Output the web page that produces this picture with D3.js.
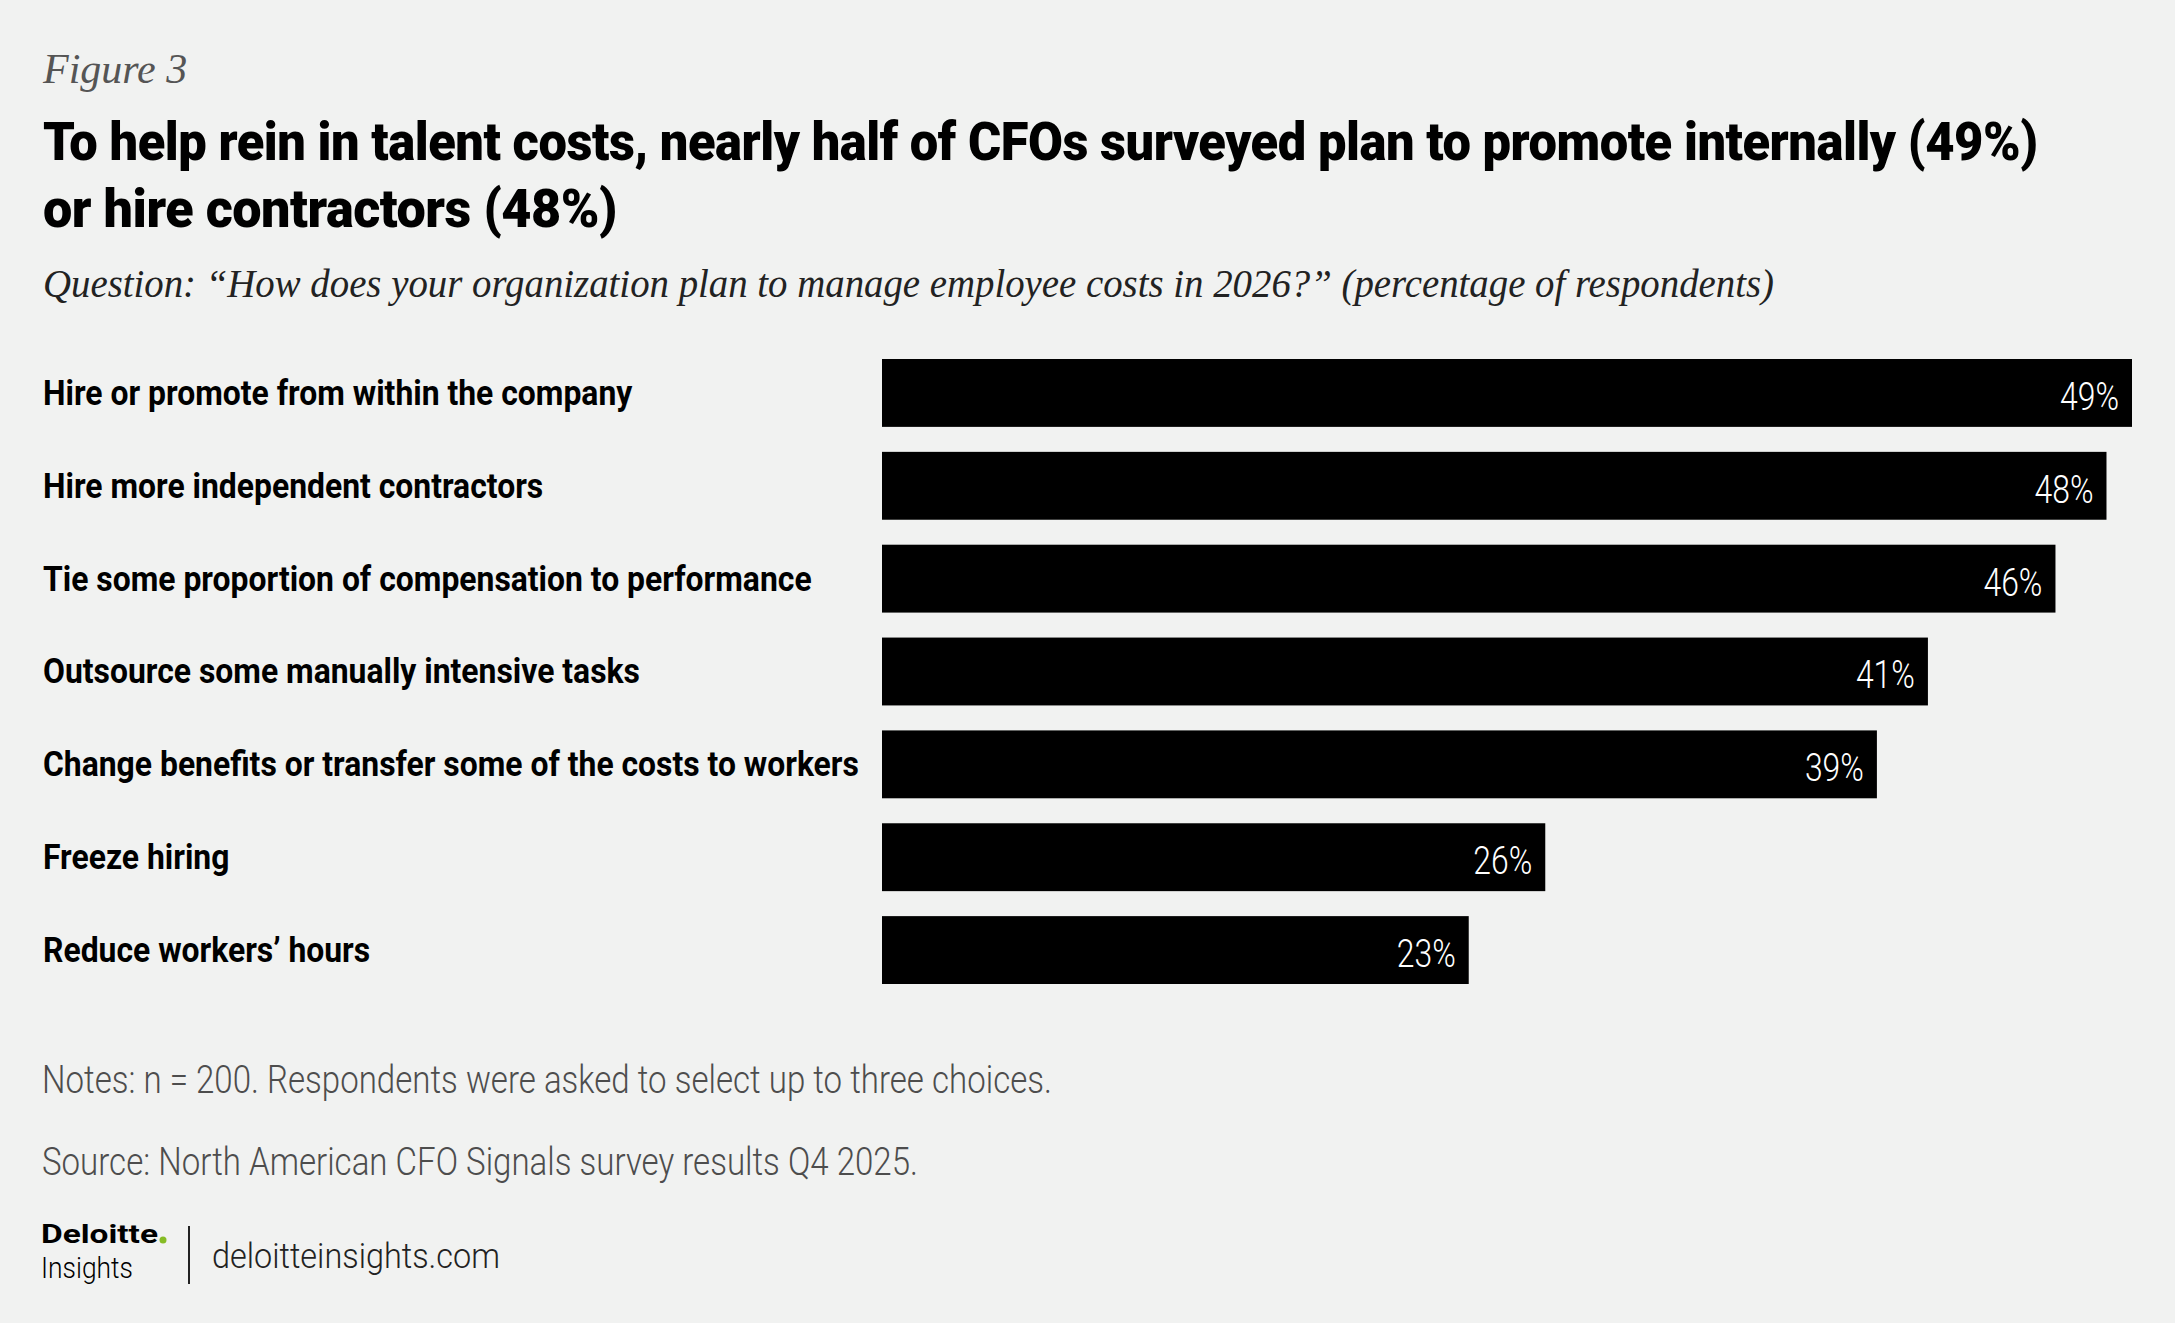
<!DOCTYPE html>
<html>
<head>
<meta charset="utf-8">
<script src="https://cdn.jsdelivr.net/npm/d3@7"></script>
<style>
  body { margin: 0; background: #f1f2f1; }
  svg { display: block; }
</style>
</head>
<body>
<svg id="chart" width="2175" height="1323"></svg>
<script>
// chart data
var categories = [
  "Hire or promote from within the company",
  "Hire more independent contractors",
  "Tie some proportion of compensation to performance",
  "Outsource some manually intensive tasks",
  "Change benefits or transfer some of the costs to workers",
  "Freeze hiring",
  "Reduce workers\u2019 hours"
];
var values = [49, 48, 46, 41, 39, 26, 23];

var figureLabel = "Figure 3";
var titleLines = [
  "To help rein in talent costs, nearly half of CFOs surveyed plan to promote internally (49%)",
  "or hire contractors (48%)"
];
var question = "Question: \u201CHow does your organization plan to manage employee costs in 2026?\u201D (percentage of respondents)";
var notes = [
  "Notes: n = 200. Respondents were asked to select up to three choices.",
  "Source: North American CFO Signals survey results Q4 2025."
];

var SANS = "Roboto, 'Noto Sans', sans-serif";
var SERIF = "'Liberation Serif', 'DejaVu Serif', serif";

var svg = d3.select("#chart");
svg.append("rect").attr("width", 2175).attr("height", 1323).attr("fill", "#f1f2f1");

// horizontal squeeze of a text node around its own x
function squeeze(node, k) {
  var x = +node.getAttribute("x");
  node.setAttribute("transform", "translate(" + x + ",0) scale(" + k + ",1) translate(" + (-x) + ",0)");
}
// squeeze a whole selection by the factor that makes the sample node span w
function fitStyle(sel, sample, w) {
  var k = w / sample.getComputedTextLength();
  sel.each(function() { squeeze(this, k); });
}

// header
svg.append("text")
  .attr("x", 43).attr("y", 83)
  .attr("font-family", SERIF).attr("font-style", "italic")
  .attr("font-size", 42).attr("fill", "#555")
  .text(figureLabel);

var titleWidths = [1995, 574];
var titles = svg.selectAll("text.title").data(titleLines).enter().append("text")
  .attr("class", "title")
  .attr("x", 43).attr("y", function(d, i) { return 160 + i * 67; })
  .attr("font-family", SANS).attr("font-weight", 900)
  .attr("font-size", 54).attr("fill", "#000")
  .attr("letter-spacing", -0.5)
  .text(function(d) { return d; })
  .each(function(d, i) { fitStyle(d3.select(this), this, titleWidths[i]); });

var q = svg.append("text")
  .attr("x", 43).attr("y", 297)
  .attr("font-family", SERIF).attr("font-style", "italic")
  .attr("font-size", 41).attr("fill", "#222")
  .text(question);
fitStyle(q, q.node(), 1732);

// bars
var x = d3.scaleLinear()
  .domain([0, d3.max(values)])
  .range([882, 2132]);

var y = d3.scaleBand()
  .domain(categories)
  .range([359, 984])
  .paddingInner(0.269)
  .paddingOuter(0);

var rows = svg.append("g").selectAll("g")
  .data(categories.map(function(c, i) { return { cat: c, val: values[i] }; }))
  .enter().append("g");

rows.append("rect")
  .attr("x", x(0))
  .attr("y", function(d) { return y(d.cat); })
  .attr("width", function(d) { return x(d.val) - x(0); })
  .attr("height", y.bandwidth())
  .attr("fill", "#000");

var catLabels = rows.append("text")
  .attr("x", 43)
  .attr("y", function(d) { return y(d.cat) + y.bandwidth() / 2 + 12; })
  .attr("font-family", SANS).attr("font-weight", 700)
  .attr("font-size", 35).attr("fill", "#000")
  .text(function(d) { return d.cat; });
fitStyle(catLabels, catLabels.nodes()[4], 816);

var valLabels = rows.append("text")
  .attr("x", function(d) { return x(d.val) - 13; })
  .attr("y", function(d) { return y(d.cat) + y.bandwidth() / 2 + 17; })
  .attr("text-anchor", "end")
  .attr("font-family", SANS).attr("font-weight", 300)
  .attr("font-size", 38).attr("fill", "#fff")
  .text(function(d) { return d.val + "%"; });
fitStyle(valLabels, valLabels.nodes()[0], 59);

// notes
var noteText = svg.selectAll("text.note").data(notes).enter().append("text")
  .attr("class", "note")
  .attr("x", 42).attr("y", function(d, i) { return 1093 + i * 82; })
  .attr("font-family", SANS).attr("font-weight", 300)
  .attr("font-size", 38).attr("fill", "#4d4d4d")
  .text(function(d) { return d; });
fitStyle(noteText, noteText.nodes()[0], 1010);

// logo
var logo = svg.append("g");
var dl = logo.append("text")
  .attr("x", 41).attr("y", 1243)
  .attr("font-family", SANS).attr("font-weight", 700)
  .attr("font-size", 25).attr("fill", "#000")
  .text("Deloitte");
fitStyle(dl, dl.node(), 117);
logo.append("circle")
  .attr("cx", 163).attr("cy", 1240)
  .attr("r", 3.5).attr("fill", "#86bc25");
var ins = logo.append("text")
  .attr("x", 41).attr("y", 1278)
  .attr("font-family", SANS).attr("font-weight", 300)
  .attr("font-size", 29).attr("fill", "#000")
  .text("Insights");
fitStyle(ins, ins.node(), 92);
logo.append("line")
  .attr("x1", 189).attr("x2", 189)
  .attr("y1", 1226).attr("y2", 1284)
  .attr("stroke", "#222").attr("stroke-width", 2);
var url = logo.append("text")
  .attr("x", 212).attr("y", 1268)
  .attr("font-family", SANS).attr("font-weight", 300)
  .attr("font-size", 36).attr("fill", "#222")
  .text("deloitteinsights.com");
fitStyle(url, url.node(), 288);
</script>
</body>
</html>
